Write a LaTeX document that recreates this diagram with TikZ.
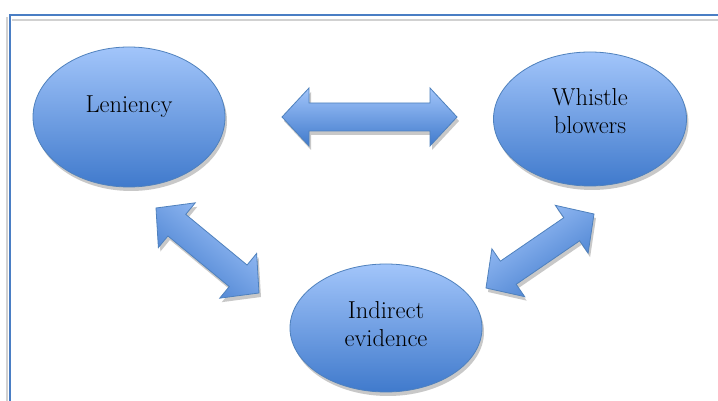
\documentclass[tikz,border=0pt]{standalone}
\usetikzlibrary{calc,shapes.geometric,shadows}

\definecolor{shapetop}{RGB}{162,197,250}
\definecolor{shapebottom}{RGB}{64,122,204}
\definecolor{shapeline}{RGB}{79,129,189}
\definecolor{framecol}{RGB}{74,126,196}

% double headed block arrow from #1 to #2, shaded across at angle #3
\newcommand{\twowayarrow}[3]{%
  \path[arrowbody, shading angle=#3]
    (#1) -- ($(#1)!27pt!(#2)!29pt!90:(#2)$) -- ($(#1)!27pt!(#2)!14pt!90:(#2)$)
    -- ($(#2)!27pt!(#1)!14pt!-90:(#1)$) -- ($(#2)!27pt!(#1)!29pt!-90:(#1)$)
    -- (#2) -- ($(#2)!27pt!(#1)!29pt!90:(#1)$) -- ($(#2)!27pt!(#1)!14pt!90:(#1)$)
    -- ($(#1)!27pt!(#2)!14pt!-90:(#2)$) -- ($(#1)!27pt!(#2)!29pt!-90:(#2)$) -- cycle;
}

\begin{document}
\begin{tikzpicture}[x=1pt, y=1pt,
    softshadow/.style={drop shadow={shadow xshift=2pt, shadow yshift=-4pt, fill=black!30, opacity=0.7}},
    bubble/.style={ellipse, draw=shapeline, line width=0.8pt, top color=shapetop, bottom color=shapebottom, inner sep=0pt, softshadow},
    arrowbody/.style={draw=shapeline, line width=0.8pt, top color=shapetop, bottom color=shapebottom, line join=miter, softshadow},
    caption/.style={align=center, font={\fontsize{24.5}{28}\selectfont}, inner sep=0pt},
    frameline/.style={draw=framecol, line width=2pt},
    pageshade/.style={draw=black!18, line width=1.5pt}]
    \useasboundingbox (0,0) rectangle (718,401);
    \clip (0,0) rectangle (718,401);
    \fill[white] (0,0) rectangle (718,401);

    % Frame.
    \draw[pageshade] (7,-5) -- (7,384);
    \draw[pageshade] (12,381) -- (725,381);
    \draw[frameline] (10,-5) |- (725,386);

    % Ovals.
    \node[bubble, minimum width=192pt, minimum height=140pt] (len) at (129,284) {};
    \node[bubble, minimum width=193pt, minimum height=134pt] (whi) at (590,282) {};
    \node[bubble, minimum width=192pt, minimum height=128pt] (ind) at (386,73) {};

    \node[caption] (len-t) at ([yshift=10pt]len.center) {Leniency};
    \node[caption] (whi-t) at ([yshift=8pt]whi.center) {Whistle\\blowers};
    \node[caption] (ind-t) at ([yshift=4pt]ind.center) {Indirect\\evidence};

    % Arrow ends.
    \coordinate (h-a) at (282,284);
    \coordinate (h-b) at (457,284);
    \coordinate (l-a) at (156,193);
    \coordinate (l-b) at (259,108);
    \coordinate (r-a) at (486,113);
    \coordinate (r-b) at (594,187);

    % Arrows.
    \foreach \s/\e/\ang in {h-a/h-b/0, l-a/l-b/-39.5, r-a/r-b/34.4}
        {\twowayarrow{\s}{\e}{\ang}}

\end{tikzpicture}
\end{document}
